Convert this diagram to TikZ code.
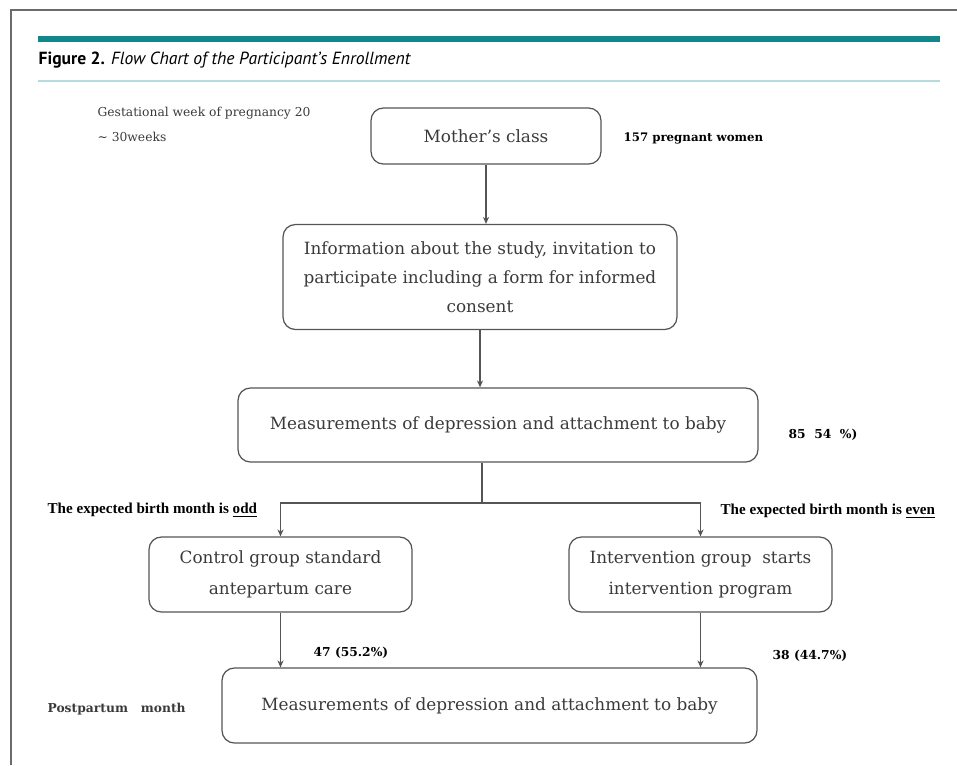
\documentclass[tikz,border=0pt]{standalone}
\usepackage{fontspec}
\setmainfont{DejaVu Serif}
\newfontfamily\titlefont{PT Sans}
\newfontfamily\notefont{Liberation Serif}
\usetikzlibrary{arrows.meta}
\definecolor{framegray}{HTML}{6B6B6B}
\definecolor{barteal}{HTML}{11878C}
\definecolor{rulecyan}{HTML}{B4DCDF}
\definecolor{boxline}{HTML}{555555}
\definecolor{boxtext}{HTML}{3A3A3A}
\tikzset{every path/.style={boxline, line width=0.7pt},
  box/.style={draw, rounded corners=7pt, text=boxtext, align=center, inner sep=0pt, font=\fontsize{9.6}{16.4}\selectfont},
  side/.style={anchor=west, text=black, inner sep=0pt},
  arr/.style={-{Stealth[length=4pt,width=3.5pt]}}}

\begin{document}
\begin{tikzpicture}[x=0.02cm, y=-0.02cm]
  \useasboundingbox (0,0) rectangle (957,765);
  % frame and header
  \draw[framegray, line width=1.1pt] (11,765) -- (11,10) -- (957,10);
  \fill[barteal] (38,36) rectangle (940,42);
  \draw[rulecyan, line width=0.9pt] (38,81) -- (940,81);
  \node[side] (title) at (38,60) {\titlefont\fontsize{10}{12}\selectfont\textbf{Figure 2.} \textit{Flow Chart of the Participant’s Enrollment}};

  % boxes
  \node[box, minimum width=4.6cm, minimum height=1.12cm] (mc) at (486,136) {Mother’s class};
  \node[box, minimum width=7.88cm, minimum height=2.1cm] (info) at (480,277) {Information about the study, invitation to\\participate including a form for informed\\consent};
  \node[box, minimum width=10.4cm, minimum height=1.48cm] (meas) at (498,425) {Measurements of depression and attachment to baby};
  \node[box, minimum width=5.26cm, minimum height=1.5cm, font=\fontsize{9.6}{17.6}\selectfont] (ctrl) at (280.5,574.5) {Control group standard\\antepartum care};
  \node[box, minimum width=5.26cm, minimum height=1.5cm, font=\fontsize{9.6}{17.6}\selectfont] (intv) at (700.5,574.5) {Intervention group\ \ starts\\intervention program};
  \node[box, minimum width=10.7cm, minimum height=1.5cm] (post) at (489.5,705.5) {Measurements of depression and attachment to baby};

  % side notes
  \node[side, text=boxtext, font=\fontsize{7}{8}\selectfont] (gw) at (97,113) {Gestational week of pregnancy 20};
  \node[side, text=boxtext, font=\fontsize{7}{8}\selectfont] (wk) at (97,137) {∼ 30weeks};
  \node[side, font=\bfseries\fontsize{6.7}{8}\selectfont] (n157) at (623,138) {157 pregnant women};
  \node[side, font=\bfseries\fontsize{7}{8}\selectfont] (pct) at (788,435) {85\ \ 54\ \ \%)};
  \node[side, font=\notefont\bfseries\fontsize{8.6}{9}\selectfont] (odd) at (47,510) {The expected birth month is \underline{odd}};
  \node[side, font=\notefont\bfseries\fontsize{8.6}{9}\selectfont] (even) at (720,511) {The expected birth month is \underline{even}};
  \node[side, text=boxtext, font=\bfseries\fontsize{7}{8}\selectfont] (pp) at (47,709) {Postpartum\ \ \ month};
  \node[side, font=\bfseries\fontsize{7}{8}\selectfont] (n47) at (313,653) {47 (55.2\%)};
  \node[side, font=\bfseries\fontsize{7}{8}\selectfont] (n38) at (772,656) {38 (44.7\%)};

  % connectors
  \draw[arr] (mc.south) -- (mc.south |- info.north);
  \draw[arr] (info.south) -- (info.south |- meas.north);
  \coordinate (sp) at (482,503);
  \draw (meas.south -| sp) -- (sp);
  \draw[arr] (sp) -| (ctrl.north);
  \draw[arr] (sp) -| (intv.north);
  \draw[arr] (ctrl.south) -- (ctrl.south |- post.north);
  \draw[arr] (intv.south) -- (intv.south |- post.north);
\end{tikzpicture}
\end{document}
